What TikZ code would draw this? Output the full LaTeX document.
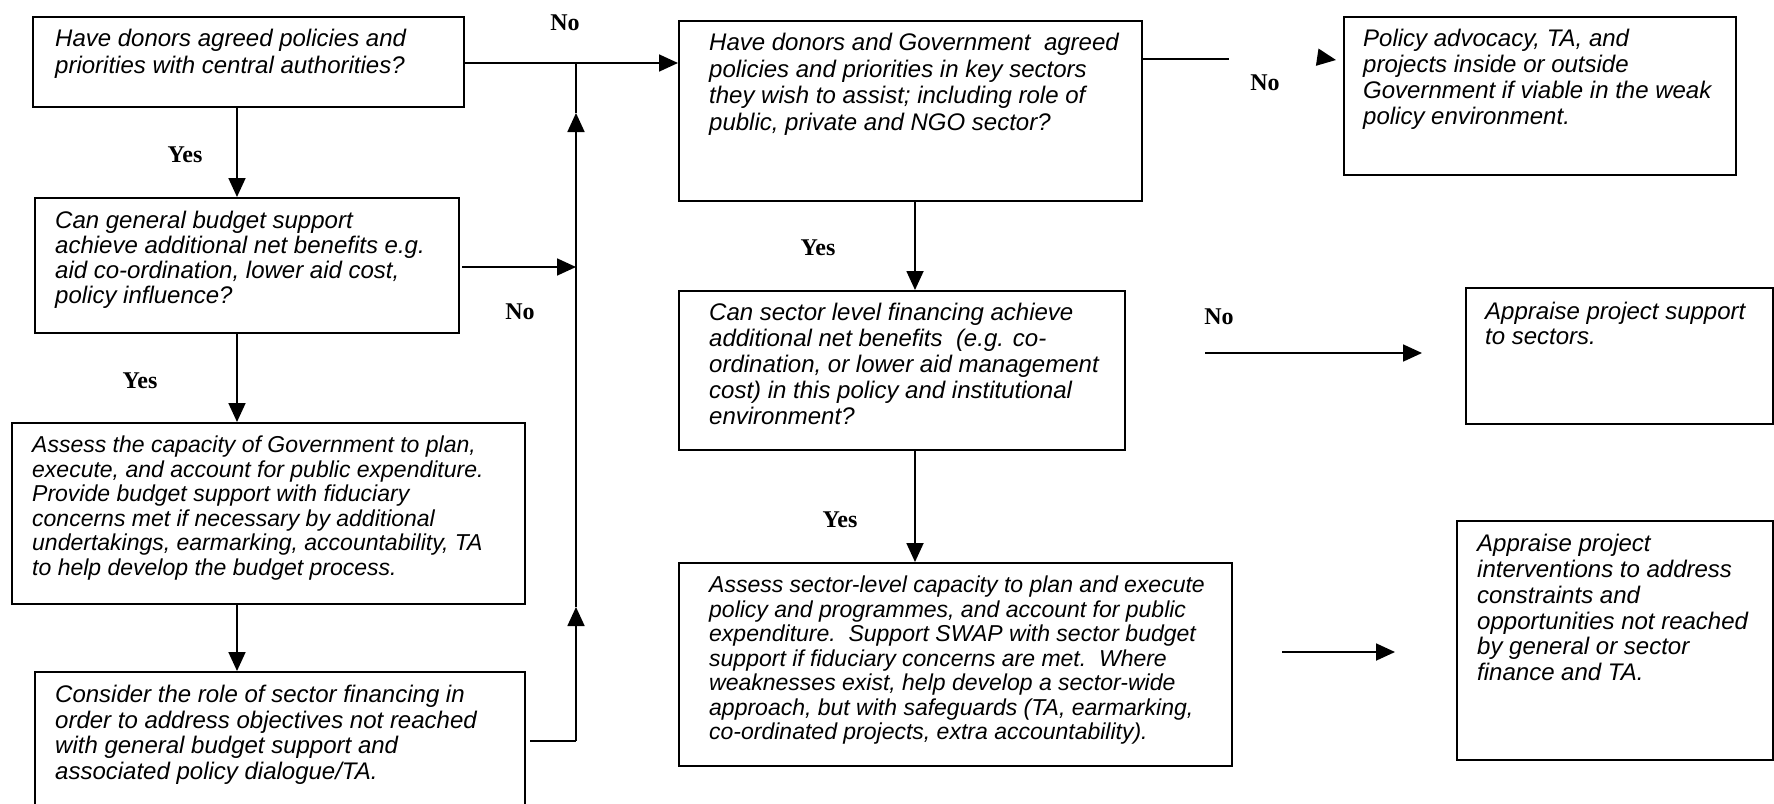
\documentclass[tikz,border=0pt]{standalone}
\usepackage{fontspec}
\setmainfont{Liberation Serif}
\newfontfamily\arialf{Liberation Sans}
\usetikzlibrary{arrows.meta}
\tikzset{
 box/.style={draw, line width=1.8pt, anchor=north west, inner sep=0pt},
 txt/.style={anchor=north west, inner sep=0pt, align=left, font=\arialf\itshape\fontsize{24}{26.5}\selectfont},
 txts/.style={txt, font=\arialf\itshape\fontsize{23}{24.5}\selectfont},
 lbl/.style={font=\bfseries\fontsize{24}{24}\selectfont, inner sep=0pt},
 arr/.style={line width=1.8pt, -{Triangle[length=19pt,width=17pt]}},
 ln/.style={line width=1.8pt},
}
\begin{document}
\begin{tikzpicture}[x=1pt,y=-1pt]
\useasboundingbox[fill=white] (0,0) rectangle (1774,803);
% boxes
\node[box, minimum width=431pt, minimum height=90pt] (A) at (32,16) {};
\node[box, minimum width=424pt, minimum height=135pt] (B) at (34,197) {};
\node[box, minimum width=513pt, minimum height=181pt] (C) at (11,422) {};
\node[box, minimum width=490pt, minimum height=144pt] (D) at (34,671) {};
\node[box, minimum width=463pt, minimum height=180pt] (E) at (678,20) {};
\node[box, minimum width=446pt, minimum height=159pt] (F) at (678,290) {};
\node[box, minimum width=553pt, minimum height=203pt] (H) at (678,562) {};
\node[box, minimum width=392pt, minimum height=158pt] (P) at (1343,16) {};
\node[box, minimum width=307pt, minimum height=136pt] (G) at (1465,287) {};
\node[box, minimum width=316pt, minimum height=239pt] (I) at (1456,520) {};
% texts
\node[txt, font=\arialf\itshape\fontsize{24}{27}\selectfont] (At) at (55,29) {Have donors agreed policies and\\priorities with central authorities?};
\node[txt, font=\arialf\itshape\fontsize{24}{25}\selectfont] (Bt) at (55,211) {Can general budget support\\achieve additional net benefits e.g.\\aid co-ordination, lower aid cost,\\policy influence?};
\node[txts] (Ct) at (32,436) {Assess the capacity of Government to plan,\\execute, and account for public expenditure.\\Provide budget support with fiduciary\\concerns met if necessary by additional\\undertakings, earmarking, accountability, TA\\to help develop the budget process.};
\node[txt, font=\arialf\itshape\fontsize{24}{25.5}\selectfont] (Dt) at (55,685) {Consider the role of sector financing in\\order to address objectives not reached\\with general budget support and\\associated policy dialogue/TA.};
\node[txt, font=\arialf\itshape\fontsize{24}{26.7}\selectfont] (Et) at (709,33) {Have donors and Government\ \ agreed\\policies and priorities in key sectors\\they wish to assist; including role of\\public, private and NGO sector?};
\node[txt, font=\arialf\itshape\fontsize{24}{26}\selectfont] (Ft) at (709,303) {Can sector level financing achieve\\additional net benefits\ \ (e.g. co-\\ordination, or lower aid management\\cost) in this policy and institutional\\environment?};
\node[txts] (Ht) at (709,576) {Assess sector-level capacity to plan and execute\\policy and programmes, and account for public\\expenditure.\ \ Support SWAP with sector budget\\support if fiduciary concerns are met.\ \ Where\\weaknesses exist, help develop a sector-wide\\approach, but with safeguards (TA, earmarking,\\co-ordinated projects, extra accountability).};
\node[txt, font=\arialf\itshape\fontsize{24}{26}\selectfont] (Pt) at (1363,29) {Policy advocacy, TA, and\\projects inside or outside\\Government if viable in the weak\\policy environment.};
\node[txt, font=\arialf\itshape\fontsize{24}{25}\selectfont] (Gt) at (1485,302) {Appraise project support\\to sectors.};
\node[txt, font=\arialf\itshape\fontsize{24}{25.8}\selectfont] (It) at (1477,534) {Appraise project\\interventions to address\\constraints and\\opportunities not reached\\by general or sector\\finance and TA.};
% labels
\node[lbl] (no1) at (565,23) {No};
\node[lbl] (yes1) at (185,155) {Yes};
\node[lbl] (no2) at (520,312) {No};
\node[lbl] (yes2) at (140,381) {Yes};
\node[lbl] (no3) at (1265,83) {No};
\node[lbl] (yes3) at (818,248) {Yes};
\node[lbl] (no4) at (1219,317) {No};
\node[lbl] (yes4) at (840,520) {Yes};
% coordinates
\coordinate (xa) at (237,0);
\coordinate (xe) at (915,0);
\coordinate (j1) at (576,63);
\coordinate (m2) at (576,113);
\coordinate (m1) at (576,607);
\coordinate (j2) at (576,741);
\coordinate (d1) at (530,741);
\coordinate (b1) at (462,267);
\coordinate (eo) at (1229,59);
\coordinate (pa1) at (1316,57);
\coordinate (pa2) at (1336,60);
\coordinate (fg1) at (1205,353);
\coordinate (fg2) at (1422,353);
\coordinate (hi1) at (1282,652);
\coordinate (hi2) at (1395,652);
% connectors
\draw[arr] (A.east |- j1) -- (E.west |- j1);
\draw[arr] (A.south -| xa) -- (B.north -| xa);
\draw[arr] (B.south -| xa) -- (C.north -| xa);
\draw[arr] (C.south -| xa) -- (D.north -| xa);
\draw[arr] (b1) -- (b1 -| j1);
\draw[ln] (d1) -- (j2);
\draw[arr] (j2) -- (m1);
\draw[arr] (m1) -- (m2);
\draw[ln] (m2) -- (j1);
\draw[arr] (E.south -| xe) -- (F.north -| xe);
\draw[arr] (F.south -| xe) -- (H.north -| xe);
\draw[ln] (E.east |- eo) -- (eo);
\draw[arr, shorten <=12pt] (pa1) -- (pa2);
\draw[arr] (fg1) -- (fg2);
\draw[arr] (hi1) -- (hi2);
\end{tikzpicture}
\end{document}
